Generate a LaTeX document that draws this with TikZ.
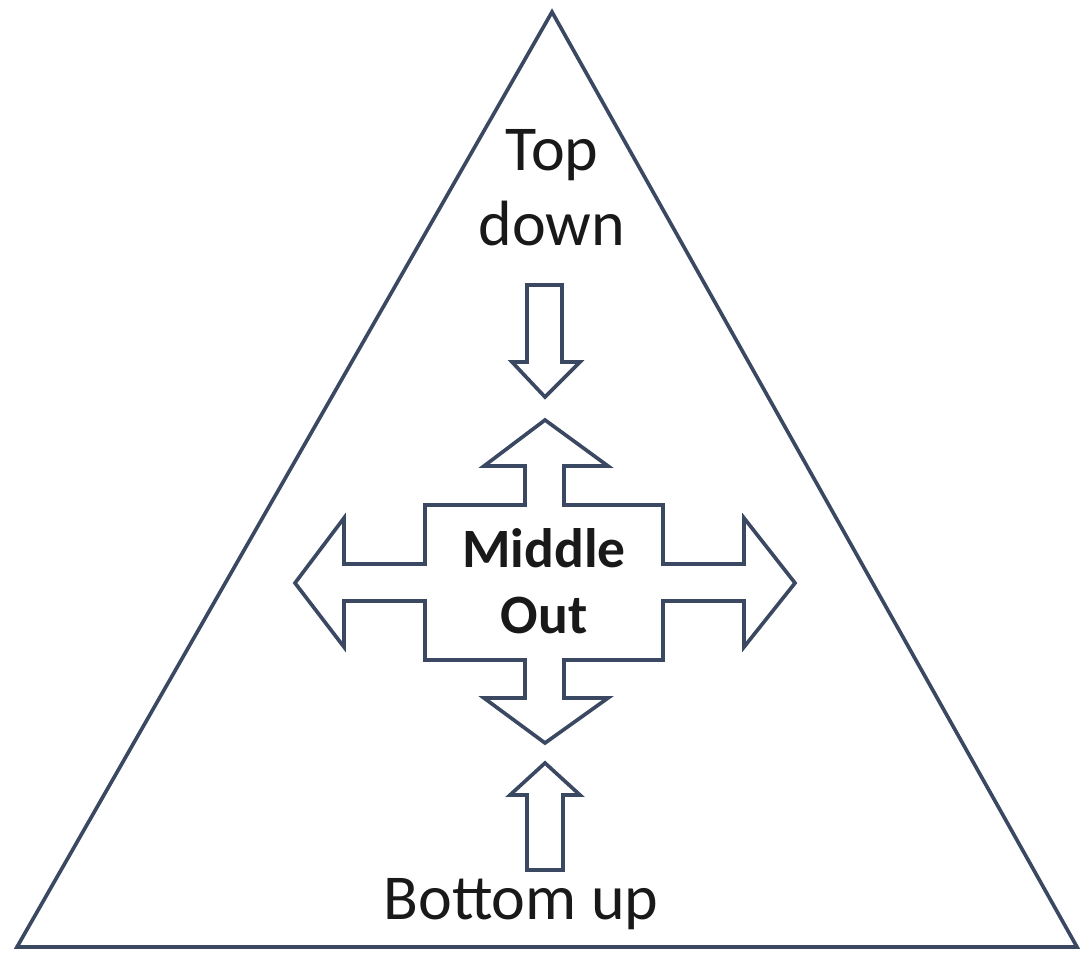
\documentclass[tikz,border=0pt]{standalone}
\usepackage{fontspec}
\setmainfont{Carlito}
\definecolor{edge}{RGB}{58,72,98}
\definecolor{ink}{RGB}{25,25,25}
\tikzset{
  shapeline/.style={draw=edge, line width=2.6pt, line join=miter},
  words/.style={text=ink, inner sep=0pt, align=center, font=\fontsize{45.5}{53.4}\selectfont},
  boldwords/.style={words, font=\fontsize{39.5}{47}\selectfont\bfseries}
}
\begin{document}
\begin{tikzpicture}[x=0.025cm,y=-0.025cm]
\useasboundingbox (0,0) rectangle (1082,955);
% the triangle
\coordinate (apex) at (552,12);
\coordinate (left) at (17,947);
\coordinate (right) at (1077,947);
\draw[shapeline] (apex) -- (left) -- (right) -- cycle;
% labels
\node[words] (topdown) at (552,188) {Top\\down};
\node[boldwords] (middleout) at (544,581) {Middle\\Out};
\node[words, anchor=base] (bottomup) at (521,919) {Bottom up};
% arrow from the top, pointing down
\draw[shapeline] (527,285) -- (562,285) -- (562,362) -- (580,362) -- (545,397)
  -- (512,362) -- (527,362) -- cycle;
% arrow from the bottom, pointing up
\draw[shapeline] (527,870) -- (563,870) -- (563,795) -- (580,795) -- (545,763)
  -- (510,795) -- (527,795) -- cycle;
% the cross round Middle Out
\draw[shapeline] (545,420) -- (608,466) -- (564,466) -- (564,505) -- (663,505)
  -- (663,564) -- (744,564) -- (744,518) -- (795,583) -- (744,647) -- (744,601)
  -- (663,601) -- (663,660) -- (564,660) -- (564,698) -- (608,698) -- (545,743)
  -- (484,698) -- (525,698) -- (525,660) -- (425,660) -- (425,601) -- (344,601)
  -- (344,647) -- (295,583) -- (344,518) -- (344,564) -- (425,564) -- (425,505)
  -- (525,505) -- (525,466) -- (484,466) -- cycle;
\end{tikzpicture}
\end{document}
